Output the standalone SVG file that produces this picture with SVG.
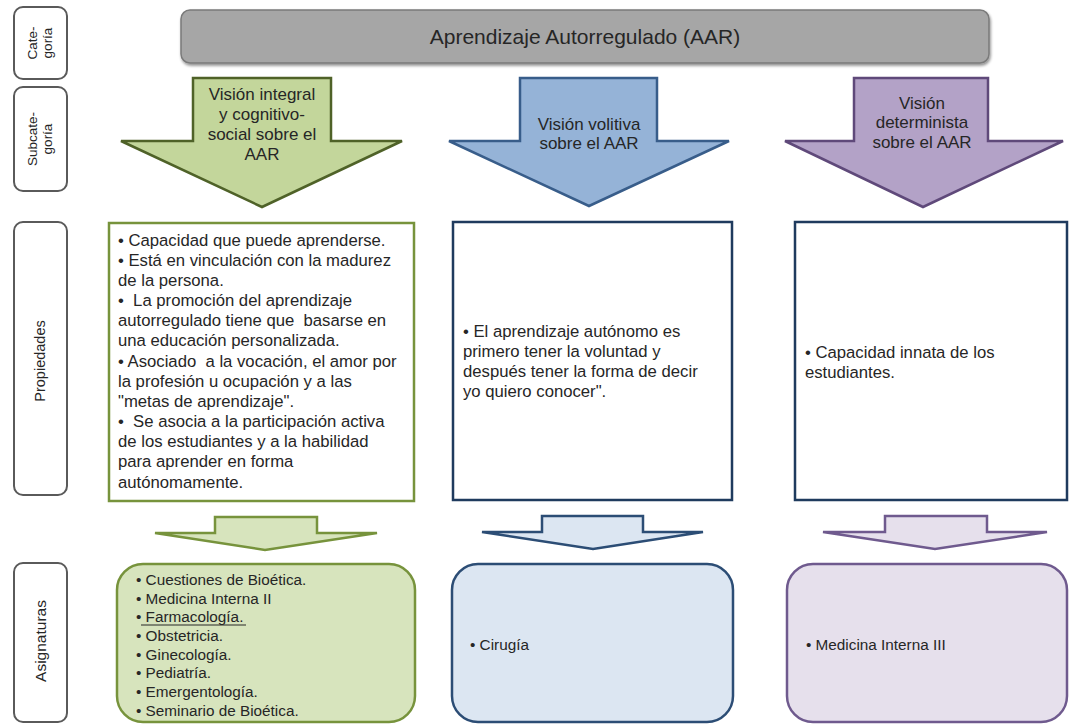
<svg xmlns="http://www.w3.org/2000/svg" width="1069" height="724" viewBox="0 0 1069 724">
  <defs>
    <filter id="shadow" x="-5%" y="-20%" width="110%" height="150%">
      <feGaussianBlur in="SourceAlpha" stdDeviation="1.5"/>
      <feOffset dx="1" dy="2" result="off"/>
      <feComponentTransfer><feFuncA type="linear" slope="0.45"/></feComponentTransfer>
      <feMerge><feMergeNode/><feMergeNode in="SourceGraphic"/></feMerge>
    </filter>
    <style>
      text { font-family: "Liberation Sans", Arial, sans-serif; fill: #262626; white-space: pre; }
      .lbl { fill: #ffffff; stroke: #5a5a5a; stroke-width: 2; }
      .lbltxt { font-size: 13.5px; text-anchor: middle; }
      .head { font-size: 17px; text-anchor: middle; }
      .prop { font-size: 16.7px; }
      .list { font-size: 15.3px; }
      .g-arrow { fill: #c3d69b; stroke: #4f6228; stroke-width: 2.5; stroke-linejoin: miter; }
      .b-arrow { fill: #95b3d7; stroke: #385d8a; stroke-width: 2.5; stroke-linejoin: miter; }
      .p-arrow { fill: #b3a2c7; stroke: #5f497a; stroke-width: 2.5; stroke-linejoin: miter; }
      .g-box { fill: #ffffff; stroke: #77933c; stroke-width: 2.5; }
      .b-box { fill: #ffffff; stroke: #1f3b5e; stroke-width: 2.5; }
      .p-box { fill: #ffffff; stroke: #1f3b5e; stroke-width: 2.5; }
      .g-small { fill: #d7e4bd; stroke: #77933c; stroke-width: 2.5; }
      .b-small { fill: #dce6f2; stroke: #2c4d75; stroke-width: 2.5; }
      .p-small { fill: #e6e0ec; stroke: #6f5a8e; stroke-width: 2.5; }
      .g-list { fill: #d7e4bd; stroke: #77933c; stroke-width: 2.5; }
      .b-list { fill: #dce6f2; stroke: #2c4d75; stroke-width: 2.5; }
      .p-list { fill: #e6e0ec; stroke: #6f5a8e; stroke-width: 2.5; }
    </style>
  </defs>

  <rect width="1069" height="724" fill="#ffffff"/>

  <!-- Row labels on the left -->
  <g id="label-categoria">
    <rect class="lbl" x="14" y="7" width="53" height="72" rx="9"/>
    <text class="lbltxt" transform="translate(37,43) rotate(-90)">Cate-</text>
    <text class="lbltxt" transform="translate(52,43) rotate(-90)">goría</text>
  </g>
  <g id="label-subcategoria">
    <rect class="lbl" x="14" y="87" width="53" height="104" rx="9"/>
    <text class="lbltxt" transform="translate(37,139) rotate(-90)">Subcate-</text>
    <text class="lbltxt" transform="translate(52,139) rotate(-90)">goría</text>
  </g>
  <g id="label-propiedades">
    <rect class="lbl" x="14" y="222" width="53" height="273" rx="9"/>
    <text class="lbltxt" style="font-size:14.5px" transform="translate(45,361) rotate(-90)">Propiedades</text>
  </g>
  <g id="label-asignaturas">
    <rect class="lbl" x="14" y="563" width="53" height="159" rx="9"/>
    <text class="lbltxt" style="font-size:15.5px" transform="translate(46,641) rotate(-90)">Asignaturas</text>
  </g>

  <!-- Category bar -->
  <g id="categoria">
    <rect x="181" y="10" width="808" height="53" rx="9" fill="#a6a6a6" stroke="#7a7a7a" stroke-width="1.5" filter="url(#shadow)"/>
    <text x="585" y="44" style="font-size:21px; text-anchor:middle">Aprendizaje Autorregulado (AAR)</text>
  </g>

  <!-- Subcategory arrows -->
  <g id="sub-integral">
    <polygon class="g-arrow" points="193,78 331,78 331,141 402,141 262,207 121,141 193,141"/>
    <text class="head" x="262" y="100">Visión integral</text>
    <text class="head" x="262" y="120">y cognitivo-</text>
    <text class="head" x="262" y="140">social sobre el</text>
    <text class="head" x="262" y="160">AAR</text>
  </g>
  <g id="sub-volitiva">
    <polygon class="b-arrow" points="520,78 657,78 657,141 729,141 589,206 449,141 520,141"/>
    <text class="head" x="589" y="130">Visión volitiva</text>
    <text class="head" x="589" y="149">sobre el AAR</text>
  </g>
  <g id="sub-determinista">
    <polygon class="p-arrow" points="854,78 988,78 988,141 1063,141 923,207 785,141 854,141"/>
    <text class="head" x="922" y="109">Visión</text>
    <text class="head" x="922" y="128">determinista</text>
    <text class="head" x="922" y="148">sobre el AAR</text>
  </g>

  <!-- Properties -->
  <g id="prop-integral">
    <rect class="g-box" x="109" y="223" width="305" height="278"/>
    <text class="prop">
      <tspan x="118" y="246">• Capacidad que puede aprenderse.</tspan>
      <tspan x="118" y="266">• Está en vinculación con la madurez</tspan>
      <tspan x="118" y="286">de la persona.</tspan>
      <tspan x="118" y="306">•  La promoción del aprendizaje</tspan>
      <tspan x="118" y="326">autorregulado tiene que  basarse en</tspan>
      <tspan x="118" y="346">una educación personalizada.</tspan>
      <tspan x="118" y="367">• Asociado  a la vocación, el amor por</tspan>
      <tspan x="118" y="387">la profesión u ocupación y a las</tspan>
      <tspan x="118" y="407">"metas de aprendizaje".</tspan>
      <tspan x="118" y="427">•  Se asocia a la participación activa</tspan>
      <tspan x="118" y="447">de los estudiantes y a la habilidad</tspan>
      <tspan x="118" y="467">para aprender en forma</tspan>
      <tspan x="118" y="488">autónomamente.</tspan>
    </text>
  </g>
  <g id="prop-volitiva">
    <rect class="b-box" x="453" y="222" width="279" height="278"/>
    <text class="prop">
      <tspan x="463" y="337">• El aprendizaje autónomo es</tspan>
      <tspan x="463" y="357">primero tener la voluntad y</tspan>
      <tspan x="463" y="377">después tener la forma de decir</tspan>
      <tspan x="463" y="397">yo quiero conocer".</tspan>
    </text>
  </g>
  <g id="prop-determinista">
    <rect class="p-box" x="795" y="222" width="272" height="278"/>
    <text class="prop">
      <tspan x="805" y="358">• Capacidad innata de los</tspan>
      <tspan x="805" y="378">estudiantes.</tspan>
    </text>
  </g>

  <!-- Arrows from properties to subjects -->
  <g id="connectors">
    <polygon class="g-small" points="215,517 317,517 317,533 377,533 265,550 155,533 215,533"/>
    <polygon class="b-small" points="542,516 643,516 643,532 703,532 593,549 482,532 542,532"/>
    <polygon class="p-small" points="885,516 987,516 987,532 1047,532 935,549 823,532 885,532"/>
  </g>

  <!-- Subjects -->
  <g id="asig-integral">
    <rect class="g-list" x="117" y="564" width="298" height="158" rx="26"/>
    <text class="list">
      <tspan x="136" y="585">• Cuestiones de Bioética.</tspan>
      <tspan x="136" y="604">• Medicina Interna II</tspan>
      <tspan x="136" y="622">• Farmacología.</tspan>
      <tspan x="136" y="641">• Obstetricia.</tspan>
      <tspan x="136" y="660">• Ginecología.</tspan>
      <tspan x="136" y="678">• Pediatría.</tspan>
      <tspan x="136" y="697">• Emergentología.</tspan>
      <tspan x="136" y="716">• Seminario de Bioética.</tspan>
    </text>
    <line x1="141" y1="625" x2="246" y2="625" stroke="#262626" stroke-width="1"/>
  </g>
  <g id="asig-volitiva">
    <rect class="b-list" x="452" y="564" width="281" height="158" rx="26"/>
    <text class="list" x="470" y="650">• Cirugía</text>
  </g>
  <g id="asig-determinista">
    <rect class="p-list" x="787" y="564" width="280" height="158" rx="26"/>
    <text class="list" x="806" y="650">• Medicina Interna III</text>
  </g>
</svg>
